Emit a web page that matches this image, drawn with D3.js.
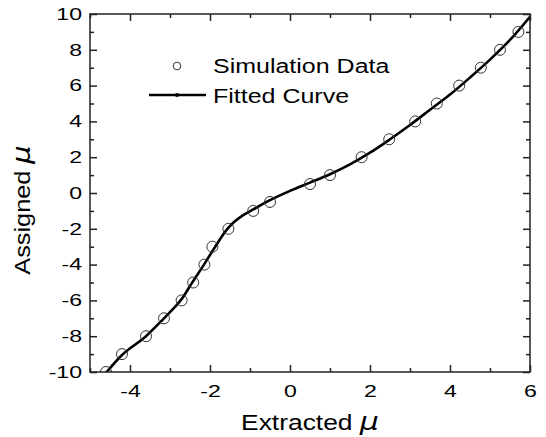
<!DOCTYPE html>
<html>
<head>
<meta charset="utf-8">
<script src="https://cdn.jsdelivr.net/npm/d3@7"></script>
<style>
  html, body { margin: 0; padding: 0; background: #fff; }
  svg { display: block; }
  text { font-family: "Liberation Sans", Arial, sans-serif; fill: #000; }
</style>
</head>
<body>
<svg id="chart" width="546" height="437"></svg>
<script>
// ---- data ----
const simX = [-4.6, -4.2, -3.6, -3.15, -2.71, -2.42, -2.14, -1.94, -1.54, -0.92, -0.5, 0.5, 1.0, 1.79, 2.48, 3.13, 3.67, 4.23, 4.77, 5.25, 5.71];
const simY = [-10, -9, -8, -7, -6, -5, -4, -3, -2, -1, -0.5, 0.5, 1, 2, 3, 4, 5, 6, 7, 8, 9];
const fitX = [-4.62, -4.2, -3.6, -3.15, -2.9, -2.7, -2.45, -2.15, -1.87, -1.58, -1.4, -1.2, -0.92, -0.5, 0, 0.5, 1.0, 1.5, 2.0, 2.5, 3.0, 3.5, 4.0, 4.5, 5.0, 5.5, 6.0];
const fitY = [-10.1, -9.05, -8.0, -7.0, -6.42, -5.9, -5.02, -4.0, -3.0, -2.05, -1.62, -1.28, -0.92, -0.4, 0.12, 0.58, 1.05, 1.6, 2.25, 3.0, 3.8, 4.65, 5.5, 6.45, 7.45, 8.55, 9.85];
const xMajorTicks = [-4, -2, 0, 2, 4, 6];
const xMinorTicks = [-5, -3, -1, 1, 3, 5];
const yMajorTicks = [-10, -8, -6, -4, -2, 0, 2, 4, 6, 8, 10];
const yMinorTicks = [-9, -7, -5, -3, -1, 1, 3, 5, 7, 9];
const xTitle = "Extracted ";
const yTitle = "Assigned ";
const muSymbol = "\u03bc";
const legendLabels = ["Simulation Data", "Fitted Curve"];

// ---- layout ----
const svg = d3.select("#chart");
const L = 90, R = 530, T = 14, B = 372;
const x = d3.scaleLinear().domain([-5, 6]).range([L, R]);
const y = d3.scaleLinear().domain([-10, 10]).range([B, T]);
const axisColor = "#222";
const tickSX = 1.4, tickFS = 16.5;

svg.append("clipPath").attr("id", "clip")
  .append("rect").attr("x", L).attr("y", T).attr("width", R - L).attr("height", B - T);

const plot = svg.append("g").attr("clip-path", "url(#clip)");

// fitted curve
const fitData = fitX.map((v, i) => [v, fitY[i]]);
plot.append("path")
  .datum(fitData)
  .attr("fill", "none")
  .attr("stroke", "#000")
  .attr("stroke-width", 2.6)
  .attr("d", d3.line().x(d => x(d[0])).y(d => y(d[1])).curve(d3.curveMonotoneX));

// simulation circles
const simData = simX.map((v, i) => [v, simY[i]]);
plot.selectAll("circle.sim").data(simData).enter().append("circle")
  .attr("class", "sim")
  .attr("cx", d => x(d[0])).attr("cy", d => y(d[1])).attr("r", 5.5)
  .attr("fill", "none").attr("stroke", "#333").attr("stroke-width", 1);

// ---- axes ----
function styleAxis(g) {
  g.select(".domain").remove();
  g.selectAll("line").attr("stroke", axisColor).attr("stroke-width", 1.5);
}
// bottom
const gB = svg.append("g").attr("transform", `translate(0,${B})`)
  .call(d3.axisBottom(x).tickValues(xMajorTicks).tickSizeInner(-7).tickSizeOuter(0).tickPadding(13).tickFormat(d => String(d)));
styleAxis(gB);
gB.selectAll("text").attr("font-size", tickFS).attr("fill", "#000").attr("transform", `scale(${tickSX},1)`);
const gBm = svg.append("g").attr("transform", `translate(0,${B})`)
  .call(d3.axisBottom(x).tickValues(xMinorTicks).tickSizeInner(-4).tickSizeOuter(0).tickFormat(""));
styleAxis(gBm);
// top
[[xMajorTicks, 7], [xMinorTicks, 4]].forEach(([tv, s]) => {
  const g = svg.append("g").attr("transform", `translate(0,${T})`)
    .call(d3.axisTop(x).tickValues(tv).tickSizeInner(-s).tickSizeOuter(0).tickFormat(""));
  styleAxis(g);
});
// left
const gL = svg.append("g").attr("transform", `translate(${L},0)`)
  .call(d3.axisLeft(y).tickValues(yMajorTicks).tickSizeInner(-7).tickSizeOuter(0).tickFormat(d => String(d)));
styleAxis(gL);
gL.selectAll("text").attr("font-size", tickFS).attr("fill", "#000")
  .attr("x", -8 / tickSX).attr("transform", `scale(${tickSX},1)`);
const gLm = svg.append("g").attr("transform", `translate(${L},0)`)
  .call(d3.axisLeft(y).tickValues(yMinorTicks).tickSizeInner(-4).tickSizeOuter(0).tickFormat(""));
styleAxis(gLm);
// right
[[yMajorTicks, 7], [yMinorTicks, 4]].forEach(([tv, s]) => {
  const g = svg.append("g").attr("transform", `translate(${R},0)`)
    .call(d3.axisRight(y).tickValues(tv).tickSizeInner(-s).tickSizeOuter(0).tickFormat(""));
  styleAxis(g);
});
// frame
svg.append("rect").attr("x", L).attr("y", T).attr("width", R - L).attr("height", B - T)
  .attr("fill", "none").attr("stroke", axisColor).attr("stroke-width", 1.5);

// ---- titles ----
const titleFS = 22, titleSX = 1.2;
const xt = svg.append("g").attr("transform", `translate(${(L + R) / 2},430) scale(${titleSX},1)`)
  .append("text").attr("text-anchor", "middle").attr("font-size", titleFS);
xt.append("tspan").text(xTitle);
xt.append("tspan").attr("font-style", "italic").attr("font-family", "'DejaVu Sans', sans-serif").attr("font-size", 25).text(muSymbol);

const yt = svg.append("g").attr("transform", `translate(30,210) rotate(-90) scale(1.15,1)`)
  .append("text").attr("text-anchor", "middle").attr("font-size", titleFS);
yt.append("tspan").text(yTitle);
yt.append("tspan").attr("font-style", "italic").attr("font-family", "'DejaVu Sans', sans-serif").attr("font-size", 25).text(muSymbol);

// ---- legend ----
const legFS = 20, legSX = 1.25;
const leg = svg.append("g");
leg.append("circle").attr("cx", 177).attr("cy", 66).attr("r", 3.8)
  .attr("fill", "none").attr("stroke", "#333").attr("stroke-width", 1);
leg.append("line").attr("x1", 149).attr("x2", 206).attr("y1", 95).attr("y2", 95)
  .attr("stroke", "#000").attr("stroke-width", 2.6);
leg.append("circle").attr("cx", 177).attr("cy", 95).attr("r", 2).attr("fill", "#000");
legendLabels.forEach((t, i) => {
  leg.append("g").attr("transform", `translate(213,${[73, 103][i]}) scale(${legSX},1)`)
    .append("text").attr("font-size", legFS).text(t);
});
</script>
</body>
</html>
